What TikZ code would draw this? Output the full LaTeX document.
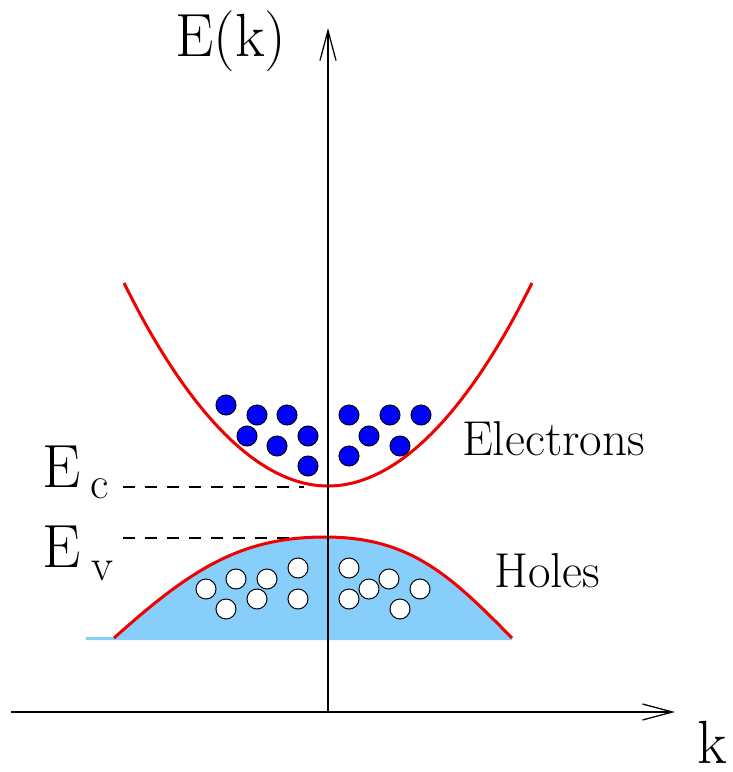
\documentclass[tikz,border=0pt]{standalone}
\usepackage{fontspec}
\usetikzlibrary{arrows.meta}
\definecolor{holeblue}{RGB}{135,206,250}
\definecolor{bandred}{RGB}{240,0,0}
\begin{document}
\begin{tikzpicture}[x=1pt,y=-1pt,
  axis/.style={line width=1.3pt,-{Straight Barb[length=30pt,width=16pt,line width=1.3pt]}},
  band/.style={bandred,line width=3pt},
  level/.style={dashed,dash pattern=on 12pt off 10pt,line width=1.2pt},
  elec/.style={circle,draw=black,line width=1pt,fill=blue,minimum size=20pt,inner sep=0pt},
  hole/.style={circle,draw=black,line width=1pt,fill=white,minimum size=20pt,inner sep=0pt},
  big/.style={font=\fontsize{61}{61}\selectfont,inner sep=0pt,anchor=base west},
  sub/.style={font=\fontsize{45}{45}\selectfont,inner sep=0pt,anchor=base west},
  lab/.style={font=\fontsize{49}{49}\selectfont,inner sep=0pt,anchor=base west}]
\useasboundingbox (0,0) rectangle (732,772);
% valence band fill
\fill[holeblue] (86,637) -- (114,637) .. controls (190,570) and (240,537) .. (325,537)
  .. controls (410,537) and (450,575) .. (512,638) -- (512,640) -- (86,640) -- cycle;
% coordinates
\coordinate (o) at (328,712);
\coordinate (ytip) at (328,28);
\coordinate (xl) at (11,712);
\coordinate (xtip) at (675,712);
\coordinate (ec0) at (123,487);
\coordinate (ec1) at (304,487);
\coordinate (ev0) at (123,538);
\coordinate (ev1) at (302,538);
% dashed levels
\draw[level] (ec0) -- (ec1);
\draw[level] (ev0) -- (ev1);
% holes
\foreach \i/\x/\y in {1/206/589,2/236/579,3/267/579,4/298/568,5/226/609,6/257/599,7/298/599,
  8/349/568,9/389/579,10/420/589,11/369/589,12/349/599,13/400/609}
  \node[hole] (h\i) at (\x,\y) {};
% electrons
\foreach \i/\x/\y in {1/226/405,2/257/415,3/287/415,4/247/436,5/277/446,6/308/436,7/308/466,
  8/349/415,9/390/415,10/421/415,11/369/436,12/400/446,13/349/456}
  \node[elec] (e\i) at (\x,\y) {};
% bands
\draw[band] (124,283) parabola bend (328,486) (532,283);
\draw[band] (114,638) .. controls (190,570) and (240,537) .. (325,537)
  .. controls (410,537) and (450,575) .. (512,638);
% axes
\draw[axis] (o) -- (ytip);
\draw[axis] (xl) -- (xtip);
% labels
\node[big] (Ek) at (175,56) {E(k)};
\node[big] (k) at (697,763) {k};
\node[big] (Ec) at (42,487) {E};
\node[sub] (c) at (90,498) {c};
\node[big] (Ev) at (42,567) {E};
\node[sub] (v) at (91,580) {v};
\node[lab] (el) at (462,455) {Electrons};
\node[lab] (ho) at (494,587) {Holes};
\end{tikzpicture}
\end{document}
